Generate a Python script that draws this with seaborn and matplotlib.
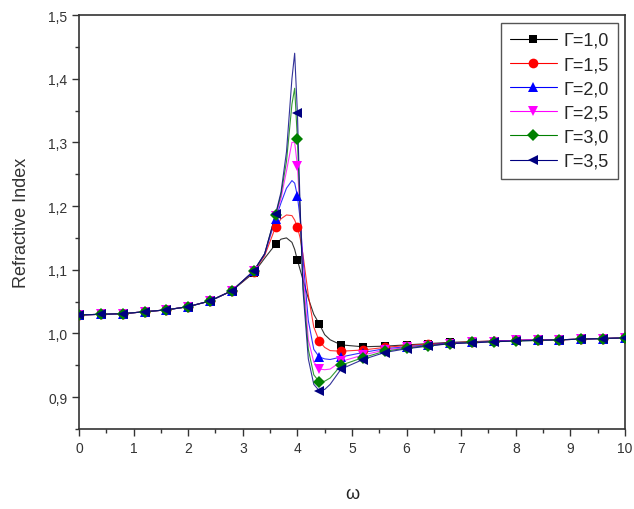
import matplotlib
matplotlib.use("Agg")
import matplotlib.pyplot as plt
from matplotlib.lines import Line2D
from matplotlib.ticker import MultipleLocator, FuncFormatter
import seaborn as sns
import pandas as pd

# frequency grid where the symbols sit
omega = [0.0, 0.4, 0.8, 1.2, 1.6, 2.0, 2.4, 2.8, 3.2, 3.6, 4.0, 4.4, 4.8,
         5.2, 5.6, 6.0, 6.4, 6.8, 7.2, 7.6, 8.0, 8.4, 8.8, 9.2, 9.6, 10.0]

n_g10 = [1.029, 1.030, 1.031, 1.034, 1.037, 1.042, 1.051, 1.067, 1.095,
         1.140, 1.115, 1.015, 0.982, 0.979, 0.980, 0.982, 0.984, 0.986,
         0.987, 0.988, 0.989, 0.990, 0.990, 0.991, 0.992, 0.993]
n_g15 = [1.029, 1.030, 1.031, 1.034, 1.037, 1.042, 1.051, 1.067, 1.097,
         1.167, 1.167, 0.988, 0.972, 0.974, 0.978, 0.981, 0.983, 0.985,
         0.987, 0.988, 0.989, 0.990, 0.990, 0.991, 0.992, 0.993]
n_g20 = [1.029, 1.030, 1.031, 1.034, 1.037, 1.042, 1.051, 1.067, 1.098,
         1.180, 1.216, 0.963, 0.963, 0.970, 0.976, 0.979, 0.982, 0.985,
         0.986, 0.988, 0.989, 0.990, 0.990, 0.991, 0.992, 0.993]
n_g25 = [1.029, 1.030, 1.031, 1.034, 1.037, 1.042, 1.051, 1.067, 1.098,
         1.184, 1.263, 0.944, 0.956, 0.966, 0.974, 0.978, 0.981, 0.984,
         0.986, 0.987, 0.989, 0.990, 0.990, 0.991, 0.992, 0.993]
n_g30 = [1.029, 1.030, 1.031, 1.034, 1.037, 1.042, 1.051, 1.067, 1.098,
         1.186, 1.305, 0.924, 0.950, 0.962, 0.972, 0.977, 0.981, 0.984,
         0.986, 0.987, 0.988, 0.989, 0.990, 0.991, 0.992, 0.993]
n_g35 = [1.029, 1.030, 1.031, 1.034, 1.037, 1.042, 1.051, 1.067, 1.098,
         1.187, 1.346, 0.910, 0.944, 0.959, 0.970, 0.976, 0.980, 0.984,
         0.985, 0.987, 0.988, 0.989, 0.990, 0.991, 0.992, 0.993]

# extra curve points read around the resonance (line only, no symbols)
omega_fine = [3.4, 3.7, 3.8, 3.9, 3.95, 4.05, 4.1, 4.2, 4.3, 4.5, 4.6]
fine_g10 = [1.118, 1.148, 1.150, 1.143, 1.132, 1.100, 1.085, 1.055, 1.030, 0.998, 0.990]
fine_g15 = [1.122, 1.180, 1.186, 1.185, 1.178, 1.150, 1.125, 1.060, 1.010, 0.978, 0.973]
fine_g20 = [1.124, 1.205, 1.228, 1.240, 1.236, 1.180, 1.120, 1.020, 0.975, 0.960, 0.959]
fine_g25 = [1.125, 1.212, 1.255, 1.300, 1.300, 1.190, 1.100, 0.990, 0.955, 0.943, 0.944]
fine_g30 = [1.125, 1.218, 1.270, 1.360, 1.385, 1.190, 1.080, 0.975, 0.935, 0.925, 0.930]
fine_g35 = [1.125, 1.222, 1.285, 1.400, 1.440, 1.200, 1.070, 0.960, 0.920, 0.912, 0.920]

labels = ["Γ=1,0", "Γ=1,5", "Γ=2,0", "Γ=2,5", "Γ=3,0", "Γ=3,5"]
coarse = [n_g10, n_g15, n_g20, n_g25, n_g30, n_g35]
fine = [fine_g10, fine_g15, fine_g20, fine_g25, fine_g30, fine_g35]
colors = ["#000000", "#ff0000", "#0000ff", "#ff00ff", "#008000", "#000080"]
markers = ["s", "o", "^", "v", "D", "<"]
msizes = [6, 7, 7, 7, 6, 7]

sns.set_theme(style="ticks")
plt.rcParams["font.family"] = ["Liberation Sans", "DejaVu Sans"]

# long tables for seaborn
pts = pd.DataFrame([(w, v, lab) for lab, ys in zip(labels, coarse) for w, v in zip(omega, ys)],
                   columns=["omega", "n", "gamma"])
fine_df = pd.DataFrame([(w, v, lab) for lab, ys in zip(labels, fine) for w, v in zip(omega_fine, ys)],
                       columns=["omega", "n", "gamma"])
curve = pd.concat([pts, fine_df]).sort_values(["gamma", "omega"])

fig = plt.figure(figsize=(6.34, 5.10), dpi=100)
ax = fig.add_axes([0.1246, 0.157, 0.8612, 0.8116])

palette = dict(zip(labels, colors))
sns.lineplot(data=curve, x="omega", y="n", hue="gamma", palette=palette,
             estimator=None, sort=True, linewidth=0.8, alpha=0.8,
             legend=False, ax=ax)
for lab, col, mk, ms in zip(labels, colors, markers, msizes):
    sub = pts[pts["gamma"] == lab]
    ax.plot(sub["omega"], sub["n"], linestyle="none", marker=mk, markersize=ms,
            color=col, markeredgewidth=0, zorder=3)

ax.set_xlim(0, 10)
ax.set_ylim(0.85, 1.5)
ax.xaxis.set_major_locator(MultipleLocator(1))
ax.xaxis.set_minor_locator(MultipleLocator(0.5))
ax.yaxis.set_major_locator(MultipleLocator(0.1))
ax.yaxis.set_minor_locator(MultipleLocator(0.05))
ax.yaxis.set_major_formatter(FuncFormatter(lambda v, p: f"{v:.1f}".replace(".", ",")))
ax.xaxis.set_major_formatter(FuncFormatter(lambda v, p: f"{v:.0f}"))
ax.tick_params(which="major", direction="out", length=5, width=1, labelsize=10,
               colors="#333333", top=False, right=False)
ax.tick_params(which="minor", direction="out", length=3, width=1,
               colors="#333333", top=False, right=False)
for sp in ax.spines.values():
    sp.set_visible(True)
    sp.set_color("#333333")
    sp.set_linewidth(1.2)

ax.set_xlabel("ω", fontsize=13, color="#222222", labelpad=22)
ax.set_ylabel("Refractive Index", fontsize=13, color="#333333", labelpad=13)

handles = [Line2D([0], [0], color=c, marker=m, markersize=ms, markeredgewidth=0, linewidth=0.8)
           for c, m, ms in zip(colors, markers, msizes)]
leg = ax.legend(handles, labels, loc="upper right", bbox_to_anchor=(1.004, 1.003),
                fontsize=13, frameon=True, fancybox=False, handlelength=2.6,
                borderpad=0.5, labelspacing=0.4, handletextpad=0.4)
leg.get_frame().set_edgecolor("#555555")
leg.get_frame().set_linewidth(1.0)
leg.get_frame().set_alpha(1)

fig.savefig("out.png", dpi=100)
